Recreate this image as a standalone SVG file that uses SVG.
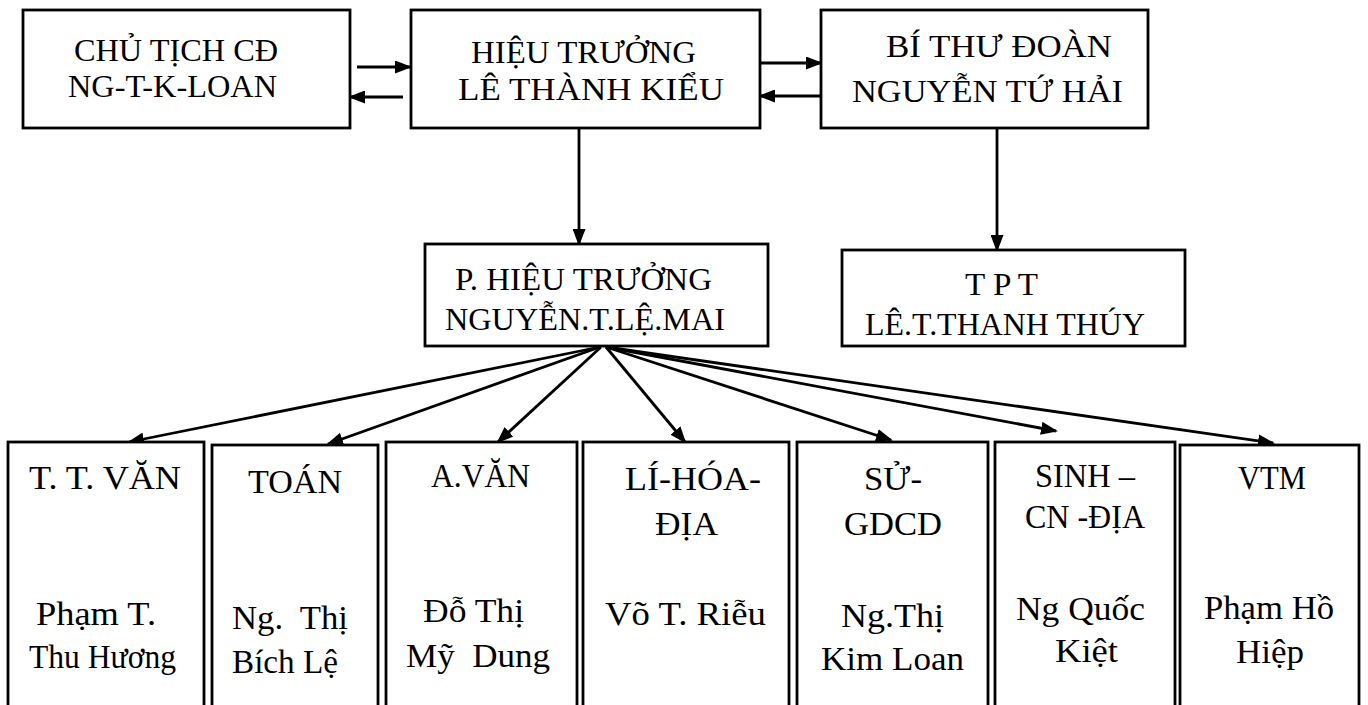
<svg xmlns="http://www.w3.org/2000/svg" width="1368" height="705" viewBox="0 0 1368 705">
<style>
.box{fill:#fff;stroke:#000;stroke-width:2.8}
.t{font-family:"Liberation Serif","Times New Roman",serif;font-size:32px;fill:#000}
.b{font-size:34px}
.ln{stroke:#000;stroke-width:2.8;fill:none;marker-end:url(#ah)}
</style>
<defs>
<marker id="ah" viewBox="0 0 17 13" refX="15" refY="6.5" markerWidth="17" markerHeight="13" markerUnits="userSpaceOnUse" orient="auto">
<path d="M0,0 L17,6.5 L0,13 z" fill="#000"/>
</marker>
</defs>
<rect width="1368" height="705" fill="#fff"/>

<g id="connectors">
<line class="ln" x1="357" y1="67" x2="410" y2="67"/>
<line class="ln" x1="403" y1="97" x2="350" y2="97"/>
<line class="ln" x1="760" y1="63" x2="821" y2="63"/>
<line class="ln" x1="821" y1="96" x2="760" y2="96"/>
<line class="ln" x1="579" y1="128" x2="579" y2="244"/>
<line class="ln" x1="997" y1="128" x2="997" y2="250"/>
<line class="ln" x1="600" y1="347" x2="129" y2="442"/>
<line class="ln" x1="600" y1="347" x2="328" y2="444"/>
<line class="ln" x1="601" y1="347" x2="498" y2="442"/>
<line class="ln" x1="606" y1="347" x2="685" y2="442"/>
<line class="ln" x1="606" y1="347" x2="891" y2="440"/>
<line class="ln" x1="606" y1="347" x2="1056" y2="431"/>
<line class="ln" x1="606" y1="347" x2="1273" y2="443"/>
</g>

<g id="chu-tich">
<rect class="box" x="23" y="10" width="327" height="118"/>
<text class="t" x="74" y="61" textLength="204" lengthAdjust="spacingAndGlyphs">CHỦ TỊCH CĐ</text>
<text class="t" x="68" y="97" textLength="209" lengthAdjust="spacingAndGlyphs">NG-T-K-LOAN</text>
</g>

<g id="hieu-truong">
<rect class="box" x="411" y="10" width="349" height="118"/>
<text class="t" x="471" y="63" textLength="225" lengthAdjust="spacingAndGlyphs">HIỆU TRƯỞNG</text>
<text class="t" x="458" y="100" textLength="266" lengthAdjust="spacingAndGlyphs">LÊ THÀNH KIỂU</text>
</g>

<g id="bi-thu">
<rect class="box" x="821" y="10" width="327" height="118"/>
<text class="t" x="886" y="57" textLength="226" lengthAdjust="spacingAndGlyphs">BÍ THƯ ĐOÀN</text>
<text class="t" x="852" y="102" textLength="271" lengthAdjust="spacingAndGlyphs">NGUYỄN TỨ HẢI</text>
</g>

<g id="pho-hieu-truong">
<rect class="box" x="425" y="244" width="343" height="102"/>
<text class="t" x="455" y="290" textLength="257" lengthAdjust="spacingAndGlyphs">P. HIỆU TRƯỞNG</text>
<text class="t" x="445" y="330" textLength="280" lengthAdjust="spacingAndGlyphs">NGUYỄN.T.LỆ.MAI</text>
</g>

<g id="tpt">
<rect class="box" x="842" y="250" width="343" height="96"/>
<text class="t" x="965" y="295" textLength="73" lengthAdjust="spacingAndGlyphs">T P T</text>
<text class="t" x="865" y="335" textLength="280" lengthAdjust="spacingAndGlyphs">LÊ.T.THANH THÚY</text>
</g>

<g id="tt-van">
<rect class="box" x="8" y="442" width="196" height="280"/>
<text class="t b" x="29" y="489" textLength="152" lengthAdjust="spacingAndGlyphs">T. T. VĂN</text>
<text class="t b" x="36" y="625" textLength="120" lengthAdjust="spacingAndGlyphs">Phạm T.</text>
<text class="t b" x="29" y="668" textLength="147" lengthAdjust="spacingAndGlyphs">Thu Hương</text>
</g>

<g id="toan">
<rect class="box" x="212" y="445" width="166" height="280"/>
<text class="t b" x="248" y="493" textLength="94" lengthAdjust="spacingAndGlyphs">TOÁN</text>
<text class="t b" x="232" y="629" textLength="116" lengthAdjust="spacingAndGlyphs" xml:space="preserve">Ng.  Thị</text>
<text class="t b" x="232" y="673" textLength="106" lengthAdjust="spacingAndGlyphs">Bích Lệ</text>
</g>

<g id="a-van">
<rect class="box" x="386" y="442" width="191" height="280"/>
<text class="t b" x="431" y="487" textLength="99" lengthAdjust="spacingAndGlyphs">A.VĂN</text>
<text class="t b" x="423" y="622" textLength="101" lengthAdjust="spacingAndGlyphs">Đỗ Thị</text>
<text class="t b" x="406" y="667" textLength="144" lengthAdjust="spacingAndGlyphs" xml:space="preserve">Mỹ  Dung</text>
</g>

<g id="li-hoa-dia">
<rect class="box" x="583" y="442" width="206" height="280"/>
<text class="t b" x="625" y="490" textLength="136" lengthAdjust="spacingAndGlyphs">LÍ-HÓA-</text>
<text class="t b" x="655" y="535" textLength="63" lengthAdjust="spacingAndGlyphs">ĐỊA</text>
<text class="t b" x="605" y="625" textLength="161" lengthAdjust="spacingAndGlyphs">Võ T. Riễu</text>
</g>

<g id="su-gdcd">
<rect class="box" x="797" y="442" width="191" height="280"/>
<text class="t b" x="864" y="490" textLength="58" lengthAdjust="spacingAndGlyphs">SỬ-</text>
<text class="t b" x="844" y="535" textLength="98" lengthAdjust="spacingAndGlyphs">GDCD</text>
<text class="t b" x="841" y="627" textLength="103" lengthAdjust="spacingAndGlyphs">Ng.Thị</text>
<text class="t b" x="821" y="670" textLength="143" lengthAdjust="spacingAndGlyphs">Kim Loan</text>
</g>

<g id="sinh-cn-dia">
<rect class="box" x="995" y="442" width="180" height="280"/>
<text class="t b" x="1035" y="487" textLength="100" lengthAdjust="spacingAndGlyphs">SINH –</text>
<text class="t b" x="1025" y="528" textLength="120" lengthAdjust="spacingAndGlyphs">CN -ĐỊA</text>
<text class="t b" x="1016" y="620" textLength="129" lengthAdjust="spacingAndGlyphs">Ng Quốc</text>
<text class="t b" x="1055" y="662" textLength="63" lengthAdjust="spacingAndGlyphs">Kiệt</text>
</g>

<g id="vtm">
<rect class="box" x="1180" y="445" width="179" height="280"/>
<text class="t b" x="1238" y="489" textLength="68" lengthAdjust="spacingAndGlyphs">VTM</text>
<text class="t b" x="1204" y="619" textLength="130" lengthAdjust="spacingAndGlyphs">Phạm Hồ</text>
<text class="t b" x="1236" y="663" textLength="68" lengthAdjust="spacingAndGlyphs">Hiệp</text>
</g>
</svg>
